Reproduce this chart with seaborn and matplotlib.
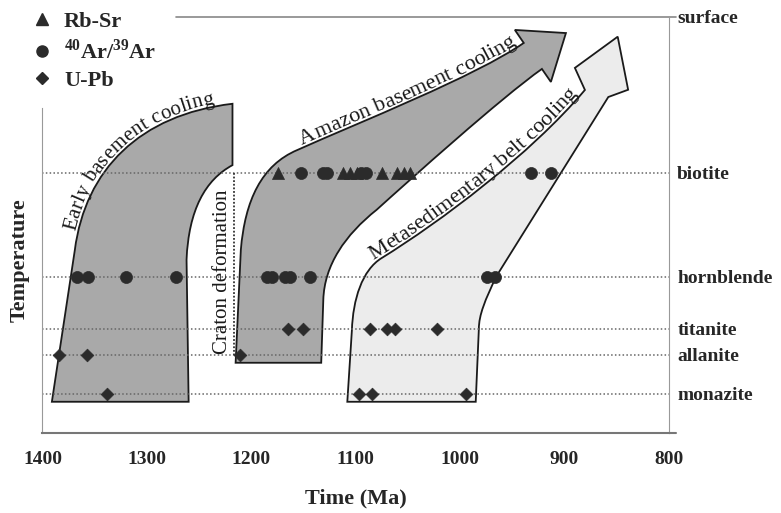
import matplotlib
matplotlib.use('Agg')
import matplotlib.pyplot as plt
from matplotlib.path import Path
from matplotlib.patches import PathPatch
from matplotlib.lines import Line2D
from matplotlib.font_manager import FontProperties
import seaborn as sns
import pandas as pd
import numpy as np

# closure temperature levels (arbitrary scale, 0 = surface)
minerals = ['surface', 'biotite', 'hornblende', 'titanite', 'allanite', 'monazite']
closure_temp = [0, 300, 500, 600, 650, 725]

# ages (Ma)
rbsr_age = [1174, 1112, 1105, 1099, 1075, 1060, 1054, 1048]
rbsr_mineral = ['biotite'] * 8
ar_age = [1152, 1131, 1127, 1095, 1090, 932, 913,
          1367, 1356, 1320, 1272, 1185, 1180, 1168, 1163, 1144, 974, 967]
ar_mineral = ['biotite'] * 7 + ['hornblende'] * 11
upb_age = [1165, 1150, 1086, 1070, 1062, 1022, 1384, 1357, 1211, 1338, 1097, 1084, 994]
upb_mineral = ['titanite'] * 6 + ['allanite'] * 3 + ['monazite'] * 4

# cooling path outlines (age, temperature)
M, L, C, Z = Path.MOVETO, Path.LINETO, Path.CURVE4, Path.CLOSEPOLY
early_verts = [(1391, 740), (1369, 448), (1359, 294), (1307, 188), (1218, 167),
               (1218, 285), (1244, 313), (1260, 371), (1262, 467), (1260, 740), (1391, 740)]
early_codes = [M, L, C, C, C, L, C, C, C, L, Z]
amazon_verts = [(1215, 665), (1210, 448), (1206, 352), (1190, 285), (1156, 256),
                (1096, 202), (986, 115), (939, 50), (947.5, 25), (898.6, 31), (913, 125),
                (921.6, 100), (961, 156), (1048, 313), (1080, 371), (1110, 419),
                (1130, 477), (1131, 544), (1133, 665), (1215, 665)]
amazon_codes = [M, L, C, C, C, C, C, C, L, L, L, L, C, C, C, C, C, C, L, Z]
meta_verts = [(1108, 740), (1103.6, 602), (1102.6, 544), (1094, 486.5), (1074.9, 463.4),
              (1019.3, 394.2), (933.1, 265.4), (880.4, 140.4), (890, 98), (849, 38),
              (839, 140), (858, 154), (965, 498), (976, 544), (982, 573), (982, 600),
              (985, 740), (1108, 740)]
meta_codes = [M, L, C, C, C, C, C, C, L, L, L, L, L, C, C, C, L, Z]

# baselines for the curved labels (cubic control points, age/temperature)
early_text_curve = [(1369, 448), (1359, 294), (1307, 188), (1218, 167)]
amazon_text_curve = [(1156, 256), (1096, 202), (986, 115), (939, 50)]
meta_text_curve = [(1074.9, 463.4), (1019.3, 394.2), (933.1, 265.4), (880.4, 140.4)]

craton_age = 1216.6
craton_temp = [300, 650]

df = pd.DataFrame({
    'age': rbsr_age + ar_age + upb_age,
    'mineral': rbsr_mineral + ar_mineral + upb_mineral,
    'method': ['Rb-Sr'] * len(rbsr_age) + ['Ar'] * len(ar_age) + ['U-Pb'] * len(upb_age),
})
df['temp'] = df['mineral'].map(dict(zip(minerals, closure_temp)))


def bezier_pts(ctrl, n=300):
    t = np.linspace(0, 1, n)[:, None]
    p0, p1, p2, p3 = [np.array(c, float) for c in ctrl]
    return (1 - t) ** 3 * p0 + 3 * (1 - t) ** 2 * t * p1 + 3 * (1 - t) * t ** 2 * p2 + t ** 3 * p3


def curved_label(ax, text, ctrl, frac=0.5, size=16, offset=3):
    renderer = ax.figure.canvas.get_renderer()
    disp = ax.transData.transform(bezier_pts(ctrl))
    arc = np.concatenate([[0], np.cumsum(np.hypot(*np.diff(disp, axis=0).T))])
    prop = FontProperties(family='Liberation Serif', size=size)

    def width(s):
        return renderer.get_text_width_height_descent(s, prop, ismath=False)[0]

    start = frac * arc[-1] - width(text) / 2
    for i, ch in enumerate(text):
        if ch == ' ':
            continue
        s = start + width(text[:i + 1]) - width(ch) / 2
        j = int(np.clip(np.searchsorted(arc, s), 1, len(arc) - 1))
        dx, dy = disp[j] - disp[j - 1]
        ang = np.arctan2(dy, dx)
        x = np.interp(s, arc, disp[:, 0]) - offset * np.sin(ang)
        y = np.interp(s, arc, disp[:, 1]) + offset * np.cos(ang)
        xd, yd = ax.transData.inverted().transform((x, y))
        ax.text(xd, yd, ch, fontproperties=prop, rotation=np.degrees(ang),
                rotation_mode='anchor', ha='center', va='baseline', color='#1a1a1a')


sns.set_style('white')
plt.rcParams['font.family'] = ['Liberation Serif', 'DejaVu Serif']
plt.rcParams['mathtext.fontset'] = 'custom'
plt.rcParams['mathtext.rm'] = 'Liberation Serif:bold'
plt.rcParams['mathtext.bf'] = 'Liberation Serif:bold'

fig = plt.figure(figsize=(7.81, 5.13), dpi=100)
ax = fig.add_axes([0.0544, 0.156, 0.802, 0.811])

dark = '#a9a9a9'
light = '#ececec'
edge = '#1a1a1a'
for verts, codes, fc in [(early_verts, early_codes, dark),
                         (amazon_verts, amazon_codes, dark),
                         (meta_verts, meta_codes, light)]:
    ax.add_patch(PathPatch(Path(verts, codes), facecolor=fc, edgecolor=edge, lw=1.3,
                           joinstyle='miter', zorder=1))

# dotted closure levels
for t in closure_temp[1:]:
    ax.axhline(t, color='#666666', lw=1.1, ls=(0, (1, 1.5)), zorder=2)
ax.plot([craton_age, craton_age], craton_temp, color='#333333', lw=1.3, ls=(0, (1, 1)), zorder=2)
ax.plot([1272, 793], [0, 0], color='#888888', lw=1.2, clip_on=False, zorder=2)

mk = {'Rb-Sr': ('^', 75), 'Ar': ('o', 75), 'U-Pb': ('D', 42)}
for meth, (m, s) in mk.items():
    sns.scatterplot(data=df[df['method'] == meth], x='age', y='temp', marker=m, s=s,
                    color='#2b2b2b', edgecolor='#2b2b2b', linewidth=0.5, ax=ax,
                    legend=False, zorder=3)

ax.set_xlim(1400, 800)
ax.set_ylim(800, 0)
ax.set_xticks([1400, 1300, 1200, 1100, 1000, 900, 800])
ax.tick_params(axis='x', direction='out', length=5, width=1, color='#888888', pad=8,
               labelsize=14)
for lab in ax.get_xticklabels():
    lab.set_fontweight('bold')
ax.plot([800, 793], [800, 800], color='#777777', lw=1.5, clip_on=False)

ax.yaxis.tick_right()
ax.set_yticks(closure_temp)
ax.set_yticklabels(minerals, fontsize=14, fontweight='bold')
ax.tick_params(axis='y', length=0, pad=6)

ax.spines['top'].set_visible(False)
ax.spines['left'].set_bounds(800, 175)
ax.spines['left'].set_color('#999999')
ax.spines['right'].set_color('#999999')
ax.spines['bottom'].set_color('#777777')
ax.spines['bottom'].set_linewidth(1.5)

ax.set_xlabel('Time (Ma)', fontsize=16, fontweight='bold', labelpad=15)
ax.set_ylabel('Temperature', fontsize=16, fontweight='bold')
ax.yaxis.set_label_position('left')
ax.yaxis.set_label_coords(-0.02, 0.416)

curved_label(ax, 'Early basement cooling', early_text_curve, frac=0.5, size=15)
curved_label(ax, 'Amazon basement cooling', amazon_text_curve, frac=0.5, size=16)
curved_label(ax, 'Metasedimentary belt cooling', meta_text_curve, frac=0.47, size=16)
ax.text(1228, 490, 'Craton deformation', fontsize=15, rotation=90,
        ha='center', va='center', color='#1a1a1a')

handles = [Line2D([], [], marker='^', ls='', color='#2b2b2b', markersize=8),
           Line2D([], [], marker='o', ls='', color='#2b2b2b', markersize=8),
           Line2D([], [], marker='D', ls='', color='#2b2b2b', markersize=6)]
labels = ['Rb-Sr', r'$^{40}$Ar/$^{39}$Ar', 'U-Pb']
ax.legend(handles, labels, loc='upper left', bbox_to_anchor=(-0.019, 1.013),
          frameon=False, borderpad=0, borderaxespad=0, handlelength=1,
          handletextpad=0.5, labelspacing=0.3, prop={'size': 16, 'weight': 'bold'})

fig.savefig('out.png', dpi=100)
